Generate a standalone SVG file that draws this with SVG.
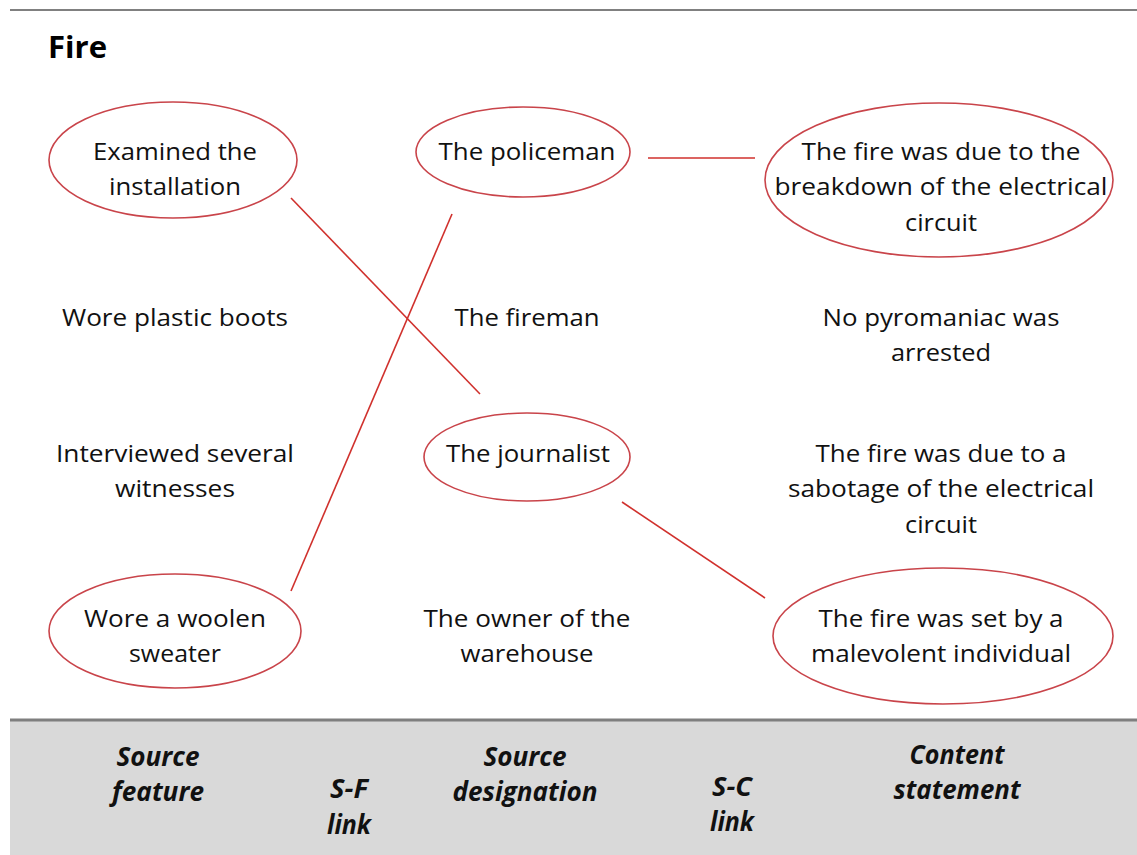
<svg xmlns="http://www.w3.org/2000/svg" width="1137" height="855" viewBox="0 0 1137 855">
<style>
.t{font-family:"Open Sans","Noto Sans",sans-serif;font-size:24px;fill:#111;text-anchor:middle}
.f{font-family:"Open Sans","Noto Sans",sans-serif;font-size:26px;font-weight:bold;font-style:italic;fill:#111;text-anchor:middle}
.e{fill:none;stroke:#c9444a;stroke-width:1.6}
.c{stroke:#d0312d;stroke-width:1.6;fill:none}
</style>
<rect x="0" y="0" width="1137" height="855" fill="#fff"/>
<line x1="10" y1="10" x2="1137" y2="10" stroke="#808080" stroke-width="2"/>
<text x="48" y="58" font-family="'Open Sans','Noto Sans',sans-serif" font-size="30" font-weight="bold" fill="#000" textLength="59" lengthAdjust="spacingAndGlyphs">Fire</text>

<g id="connectors">
<line class="c" x1="291" y1="198" x2="480" y2="394"/>
<line class="c" x1="648" y1="158" x2="755" y2="158"/>
<line class="c" x1="452" y1="214" x2="291" y2="591"/>
<line class="c" x1="622" y1="502" x2="765" y2="598"/>
</g>

<g id="n-examined">
<ellipse class="e" cx="173" cy="160" rx="124" ry="58"/>
<text class="t" x="175" y="160" textLength="164" lengthAdjust="spacingAndGlyphs">Examined the</text>
<text class="t" x="175" y="195" textLength="132" lengthAdjust="spacingAndGlyphs">installation</text>
</g>
<g id="n-policeman">
<ellipse class="e" cx="523" cy="152" rx="107" ry="45"/>
<text class="t" x="527" y="160" textLength="177" lengthAdjust="spacingAndGlyphs">The policeman</text>
</g>
<g id="n-breakdown">
<ellipse class="e" cx="939" cy="180" rx="174" ry="77"/>
<text class="t" x="941" y="160" textLength="279" lengthAdjust="spacingAndGlyphs">The fire was due to the</text>
<text class="t" x="941" y="195" textLength="333" lengthAdjust="spacingAndGlyphs">breakdown of the electrical</text>
<text class="t" x="941" y="231" textLength="72" lengthAdjust="spacingAndGlyphs">circuit</text>
</g>
<g id="n-boots">
<text class="t" x="175" y="326" textLength="226" lengthAdjust="spacingAndGlyphs">Wore plastic boots</text>
</g>
<g id="n-fireman">
<text class="t" x="527" y="326" textLength="145" lengthAdjust="spacingAndGlyphs">The fireman</text>
</g>
<g id="n-pyromaniac">
<text class="t" x="941" y="326" textLength="237" lengthAdjust="spacingAndGlyphs">No pyromaniac was</text>
<text class="t" x="941" y="361" textLength="100" lengthAdjust="spacingAndGlyphs">arrested</text>
</g>
<g id="n-interviewed">
<text class="t" x="175" y="462" textLength="238" lengthAdjust="spacingAndGlyphs">Interviewed several</text>
<text class="t" x="175" y="497" textLength="120" lengthAdjust="spacingAndGlyphs">witnesses</text>
</g>
<g id="n-journalist">
<ellipse class="e" cx="527" cy="457" rx="103" ry="44"/>
<text class="t" x="528" y="462" textLength="164" lengthAdjust="spacingAndGlyphs">The journalist</text>
</g>
<g id="n-sabotage">
<text class="t" x="941" y="462" textLength="251" lengthAdjust="spacingAndGlyphs">The fire was due to a</text>
<text class="t" x="941" y="497" textLength="306" lengthAdjust="spacingAndGlyphs">sabotage of the electrical</text>
<text class="t" x="941" y="533" textLength="72" lengthAdjust="spacingAndGlyphs">circuit</text>
</g>
<g id="n-sweater">
<ellipse class="e" cx="175" cy="631" rx="126" ry="57"/>
<text class="t" x="175" y="627" textLength="182" lengthAdjust="spacingAndGlyphs">Wore a woolen</text>
<text class="t" x="175" y="662" textLength="92" lengthAdjust="spacingAndGlyphs">sweater</text>
</g>
<g id="n-owner">
<text class="t" x="527" y="627" textLength="207" lengthAdjust="spacingAndGlyphs">The owner of the</text>
<text class="t" x="527" y="662" textLength="133" lengthAdjust="spacingAndGlyphs">warehouse</text>
</g>
<g id="n-malevolent">
<ellipse class="e" cx="943" cy="636" rx="170" ry="68"/>
<text class="t" x="941" y="627" textLength="245" lengthAdjust="spacingAndGlyphs">The fire was set by a</text>
<text class="t" x="941" y="662" textLength="260" lengthAdjust="spacingAndGlyphs">malevolent individual</text>
</g>

<g id="footer">
<rect x="10" y="720" width="1127" height="135" fill="#d9d9d9"/>
<line x1="10" y1="720" x2="1137" y2="720" stroke="#7f7f7f" stroke-width="3"/>
<text class="f" x="158" y="766" textLength="83" lengthAdjust="spacingAndGlyphs">Source</text>
<text class="f" x="158" y="801" textLength="92" lengthAdjust="spacingAndGlyphs">feature</text>
<text class="f" x="349" y="798" textLength="38" lengthAdjust="spacingAndGlyphs">S-F</text>
<text class="f" x="349" y="834" textLength="44" lengthAdjust="spacingAndGlyphs">link</text>
<text class="f" x="525" y="766" textLength="83" lengthAdjust="spacingAndGlyphs">Source</text>
<text class="f" x="525" y="801" textLength="145" lengthAdjust="spacingAndGlyphs">designation</text>
<text class="f" x="732" y="796" textLength="40" lengthAdjust="spacingAndGlyphs">S-C</text>
<text class="f" x="732" y="831" textLength="44" lengthAdjust="spacingAndGlyphs">link</text>
<text class="f" x="957" y="764" textLength="95" lengthAdjust="spacingAndGlyphs">Content</text>
<text class="f" x="957" y="799" textLength="127" lengthAdjust="spacingAndGlyphs">statement</text>
</g>
</svg>
